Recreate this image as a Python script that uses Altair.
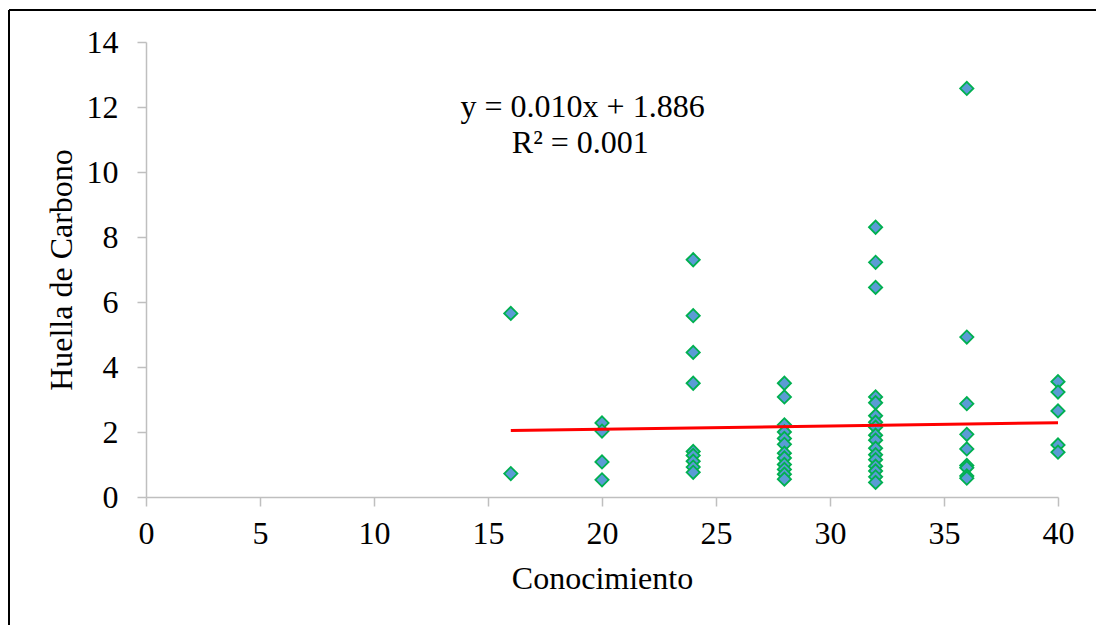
import altair as alt
import pandas as pd

# Data
x16 = [5.65, 0.72]
x20 = [2.28, 2.03, 1.08, 0.53]
x24 = [7.3, 5.58, 4.45, 3.5, 1.4, 1.28, 1.1, 0.92, 0.76]
x28 = [3.5, 3.08, 2.22, 2.0, 1.8, 1.62, 1.35, 1.2, 1.0, 0.85, 0.7, 0.55]
x32 = [8.3, 7.22, 6.45, 3.08, 2.9, 2.5, 2.3, 2.15, 1.9, 1.75, 1.5, 1.3, 1.15, 0.95, 0.8, 0.62, 0.45]
x36 = [12.57, 4.92, 2.87, 1.93, 1.48, 0.97, 0.9, 0.65, 0.58]
x40 = [3.55, 3.23, 2.65, 1.6, 1.38]

groups = {16: x16, 20: x20, 24: x24, 28: x28, 32: x32, 36: x36, 40: x40}

slope = 0.010
intercept = 1.886
eq_text = "y = 0.010x + 1.886"
r2_text = "R² = 0.001"

x_ticks = [0, 5, 10, 15, 20, 25, 30, 35, 40]
y_ticks = [0, 2, 4, 6, 8, 10, 12, 14]

rows = [{"Conocimiento": k, "Huella": v} for k, vals in groups.items() for v in vals]
df = pd.DataFrame(rows)

xmin, xmax = min(groups), max(groups)
trend = pd.DataFrame({
    "Conocimiento": [xmin, xmax],
    "Huella": [slope * xmin + intercept, slope * xmax + intercept],
})

labels = pd.DataFrame({
    "Conocimiento": [19.15, 19.05],
    "Huella": [12.0, 10.9],
    "t": [eq_text, r2_text],
})

FONT = "Liberation Serif"
FS = 32

xscale = alt.Scale(domain=[0, 40], nice=False, zero=False)
yscale = alt.Scale(domain=[0, 14], nice=False)

xaxis = alt.Axis(values=x_ticks, title="Conocimiento", grid=False,
                 domainColor="#bfbfbf", tickColor="#bfbfbf", tickSize=9,
                 domainWidth=1.5, tickWidth=1.5, labelFlush=False,
                 labelFont=FONT, labelFontSize=FS, labelColor="black",
                 labelPadding=12, titleFont=FONT, titleFontSize=FS,
                 titleFontWeight="normal", titleColor="black", titlePadding=14)
yaxis = alt.Axis(values=y_ticks, title="Huella de Carbono", grid=False,
                 domainColor="#bfbfbf", tickColor="#bfbfbf", tickSize=9,
                 domainWidth=1.5, tickWidth=1.5, labelFlush=False,
                 labelFont=FONT, labelFontSize=FS, labelColor="black",
                 labelPadding=19, titleFont=FONT, titleFontSize=FS,
                 titleFontWeight="normal", titleColor="black", titlePadding=8)

points = alt.Chart(df).mark_point(
    shape="diamond", filled=True, fill="#5b9bd5", stroke="#00b050",
    strokeWidth=1.8, size=175, opacity=1,
).encode(
    x=alt.X("Conocimiento:Q", scale=xscale, axis=xaxis),
    y=alt.Y("Huella:Q", scale=yscale, axis=yaxis),
)

line = alt.Chart(trend).mark_line(color="#ff0000", strokeWidth=3).encode(
    x=alt.X("Conocimiento:Q", scale=xscale),
    y=alt.Y("Huella:Q", scale=yscale),
)

text = alt.Chart(labels).mark_text(font=FONT, fontSize=FS, color="black",
                                   align="center", baseline="middle").encode(
    x=alt.X("Conocimiento:Q", scale=xscale),
    y=alt.Y("Huella:Q", scale=yscale),
    text="t:N",
)

border_left = alt.Chart(pd.DataFrame({"a": [0]})).mark_rule(color="black", strokeWidth=2).encode(
    x=alt.value(-137), y=alt.value(-32), y2=alt.value(600))
border_top = alt.Chart(pd.DataFrame({"a": [0]})).mark_rule(color="black", strokeWidth=2).encode(
    x=alt.value(-137), x2=alt.value(1000), y=alt.value(-32))

chart = alt.layer(points, line, text, border_left, border_top).properties(
    width=912, height=455,
    autosize=alt.AutoSizeParams(type="none"),
    padding={"left": 146, "top": 42, "right": 38, "bottom": 128},
    background="white",
).configure_view(stroke=None)

chart.save("out.html", embed_options={"renderer": "svg", "actions": False})
